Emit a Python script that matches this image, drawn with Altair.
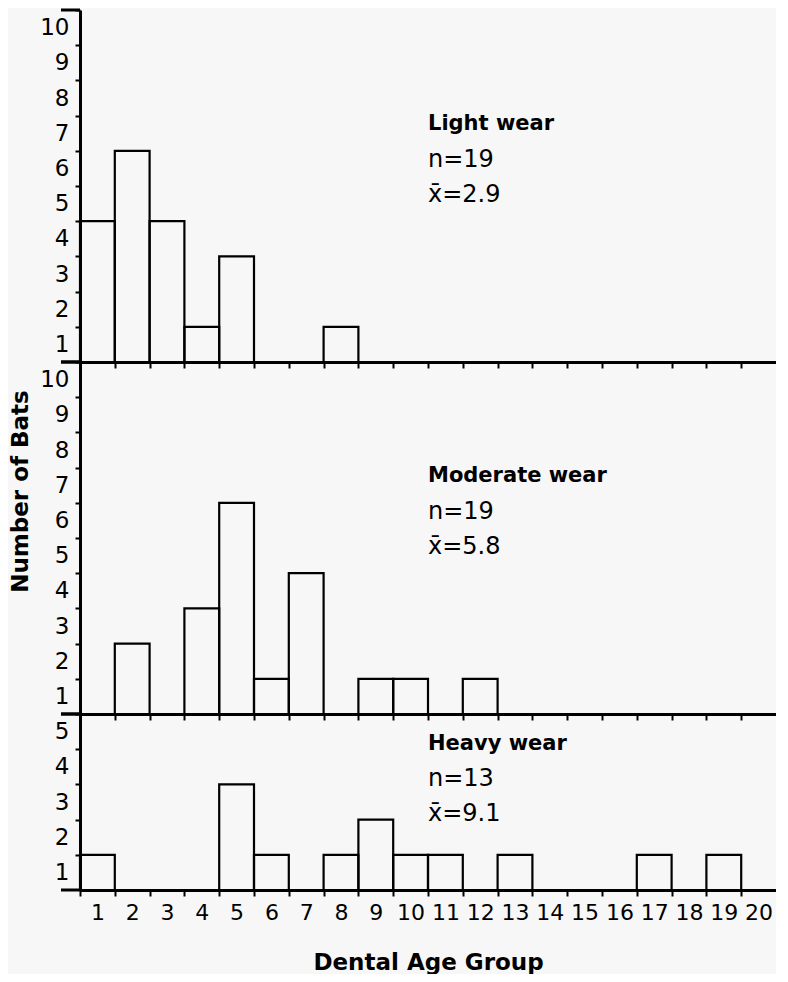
import altair as alt
import pandas as pd

# ---- data ----
age_groups = list(range(1, 21))

light_groups = [1, 2, 3, 4, 5, 8]
light_counts = [4, 6, 4, 1, 3, 1]

moderate_groups = [2, 4, 5, 6, 7, 9, 10, 12]
moderate_counts = [2, 3, 6, 1, 4, 1, 1, 1]

heavy_groups = [1, 5, 6, 8, 9, 10, 11, 13, 17, 19]
heavy_counts = [1, 3, 1, 1, 2, 1, 1, 1, 1, 1]

panel_names = ["Light  wear", "Moderate  wear", "Heavy  wear"]
panel_n = [19, 19, 13]
panel_mean = ["2.9", "5.8", "9.1"]
panel_ymax = [10, 10, 5]

# ---- layout constants ----
W = 696
UNIT_X = W / 20
UNIT_Y = 35.2
BLACK = "black"
TICK_FONT = "DejaVu Sans"
ANN_X = 10.5
ANN_Y = [(6.75, 5.75, 4.75), (6.75, 5.75, 4.75), (4.15, 3.15, 2.15)]

xscale = alt.Scale(domain=[0.5, 20.5], nice=False, zero=False)


def panel(groups, counts, ymax, name, n, mean, ann_y, bottom=False, ytitle=False):
    h = ymax * UNIT_Y
    yscale = alt.Scale(domain=[0, ymax], nice=False, zero=True)
    df = pd.DataFrame({"group": groups, "count": counts})

    x_kw = dict(
        values=[a - 0.5 for a in age_groups], tickCount=40,
        tickSize=6, tickWidth=2, tickColor=BLACK,
        domainColor=BLACK, domainWidth=3, grid=False,
        labelOverlap=False, labelFlush=False,
    )
    if bottom:
        xaxis = alt.Axis(
            **x_kw, labels=True, labelOffset=UNIT_X / 2,
            labelExpr="format(datum.value + 0.5, 'd')",
            labelFont=TICK_FONT, labelFontSize=22, labelColor=BLACK, labelPadding=6,
            title="Dental  Age  Group", titleFont="DejaVu Sans", titleFontSize=23,
            titleFontWeight="bold", titleColor=BLACK, titlePadding=28,
        )
    else:
        xaxis = alt.Axis(**x_kw, labels=False, title="")

    y_kw = dict(
        values=list(range(1, ymax + 1)), tickCount=40, format="d",
        labelOffset=UNIT_Y / 2,
        tickSize=5, tickWidth=2, tickColor=BLACK,
        domainColor=BLACK, domainWidth=3, grid=False,
        labelFont=TICK_FONT, labelFontSize=23, labelColor=BLACK, labelPadding=6,
        labelFlush=False, labelOverlap=False,
    )
    if ytitle:
        yaxis = alt.Axis(
            **y_kw, title="Number  of  Bats", titleFont="DejaVu Sans", titleFontSize=23,
            titleFontWeight="bold", titleColor=BLACK, titleAngle=270,
            titleX=-60, titleY=129, titleAlign="center", titleBaseline="middle",
        )
    else:
        yaxis = alt.Axis(**y_kw, title="")

    bars = alt.Chart(df).transform_calculate(
        x0="datum.group - 0.5", x1="datum.group + 0.5"
    ).mark_bar(fillOpacity=0, stroke=BLACK, strokeWidth=2.2).encode(
        x=alt.X("x0:Q", scale=xscale, axis=xaxis),
        x2="x1:Q",
        y=alt.Y("count:Q", scale=yscale, axis=yaxis),
        y2=alt.datum(0),
    )

    ext = alt.Chart(pd.DataFrame({"count": [0, ymax]})).mark_rule(
        color=BLACK, strokeWidth=3
    ).encode(
        y=alt.Y("count:Q", scale=yscale),
        x=alt.value(-19), x2=alt.value(0),
    )

    ann_title = alt.Chart(pd.DataFrame({"x0": [ANN_X], "count": [ann_y[0]], "t": [name]})).mark_text(
        align="left", baseline="middle", font="DejaVu Sans", fontSize=21,
        fontWeight="bold", color=BLACK,
    ).encode(
        x=alt.X("x0:Q", scale=xscale),
        y=alt.Y("count:Q", scale=yscale),
        text="t:N",
    )
    ann_stats = alt.Chart(pd.DataFrame({
        "x0": [ANN_X, ANN_X],
        "count": [ann_y[1], ann_y[2]],
        "t": [f"n={n}", f"x\u0304={mean}"],
    })).mark_text(
        align="left", baseline="middle", font="DejaVu Sans", fontSize=24, color=BLACK,
    ).encode(
        x=alt.X("x0:Q", scale=xscale),
        y=alt.Y("count:Q", scale=yscale),
        text="t:N",
    )

    return alt.layer(bars, ext, ann_title, ann_stats).properties(width=W, height=h)


top = panel(light_groups, light_counts, panel_ymax[0], panel_names[0], panel_n[0], panel_mean[0], ANN_Y[0])
mid = panel(moderate_groups, moderate_counts, panel_ymax[1], panel_names[1], panel_n[1], panel_mean[1], ANN_Y[1], ytitle=True)
bot = panel(heavy_groups, heavy_counts, panel_ymax[2], panel_names[2], panel_n[2], panel_mean[2], ANN_Y[2], bottom=True)

chart = alt.vconcat(top, mid, bot, spacing=0, bounds="flush").properties(
    padding={"left": 0, "top": 0, "right": 0, "bottom": 0},
    background="#f7f7f7",
).configure_view(strokeWidth=0).configure_axis(labelOverlap=False, labelFlush=False)

chart.save("out.html", embed_options={"renderer": "svg", "actions": False})
